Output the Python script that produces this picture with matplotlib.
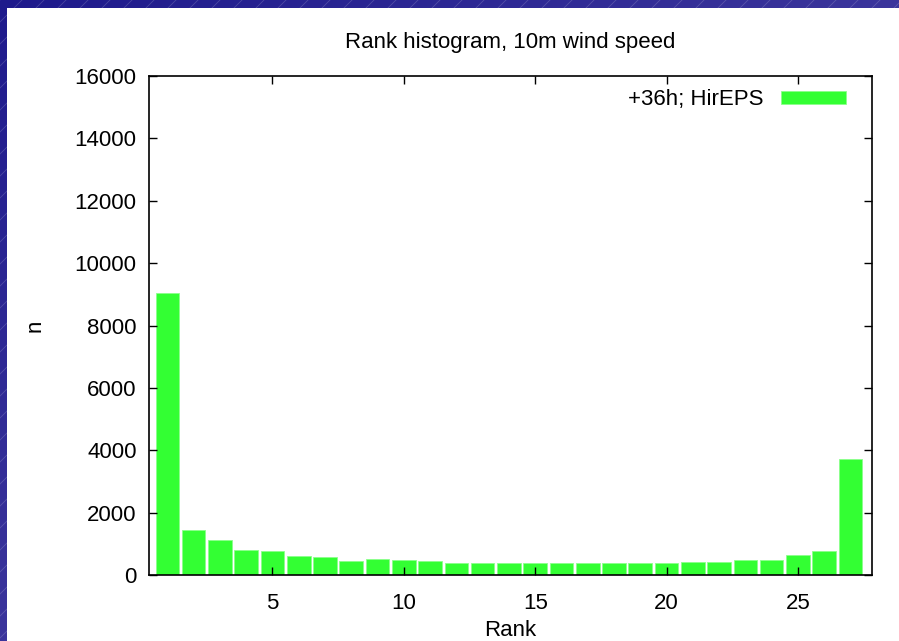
import numpy as np
import matplotlib
matplotlib.use("Agg")
import matplotlib.pyplot as plt
from matplotlib.patches import Rectangle

# rank histogram counts, 27 ranks
ranks = list(range(1, 28))
counts = [9050, 1450, 1130, 800, 770, 600, 570, 460, 520, 490,
          460, 400, 400, 370, 390, 400, 380, 400, 380, 400,
          420, 420, 490, 480, 630, 770, 3720]
xticks = [5, 10, 15, 20, 25]
yticks = [0, 2000, 4000, 6000, 8000, 10000, 12000, 14000, 16000]

plt.rcParams['font.family'] = ['Liberation Sans', 'DejaVu Sans']
FS = 16

W, H = 899, 641
fig = plt.figure(figsize=(W / 100, H / 100), dpi=100)

# blue slide background with faint diagonal lines
bg = fig.add_axes([0, 0, 1, 1])
gx, gy = np.meshgrid(np.linspace(0, 1, 200), np.linspace(0, 1, 200))
t = (gx + gy) / 2
c0 = np.array([30, 26, 140]) / 255
c1 = np.array([88, 80, 172]) / 255
img = c0[None, None, :] * (1 - t[..., None]) + c1[None, None, :] * t[..., None]
bg.imshow(img, extent=[0, W, H, 0], aspect='auto')
for k in np.arange(-H, W + H, 22):
    bg.plot([k, k + H], [H, 0], color='white', alpha=0.18, lw=0.6)
bg.set_xlim(0, W)
bg.set_ylim(H, 0)
bg.axis('off')

# white panel
fig.patches.append(Rectangle((7 / W, 0), 1 - 7 / W, 1 - 8 / H,
                             transform=fig.transFigure, facecolor='white',
                             edgecolor='none', zorder=1))

ax = fig.add_axes([149 / W, 1 - 575 / H, (872 - 149) / W, (575 - 76) / H])
ax.set_zorder(2)
ax.bar(ranks, counts, width=0.9, color='#33ff33', edgecolor='#8cff8c',
       linewidth=0.6, label='+36h; HirEPS')
ax.set_xlim(0.3, 27.82)
ax.set_ylim(0, 16000)
ax.set_xticks(xticks)
ax.set_yticks(yticks)
ax.tick_params(direction='in', top=True, right=True, length=6, width=1,
               labelsize=FS)
ax.tick_params(axis='x', pad=13)
ax.tick_params(axis='y', pad=9)
for s in ax.spines.values():
    s.set_linewidth(1.2)
ax.text(0.5, 1.068, 'Rank histogram, 10m wind speed', transform=ax.transAxes,
        ha='center', va='center', fontsize=FS)
ax.set_xlabel('Rank', fontsize=FS, va='center')
ax.xaxis.set_label_coords(0.5, -0.112)
ax.set_ylabel('n', fontsize=FS, va='center')
ax.yaxis.set_label_coords(-0.158, 0.5)
ax.legend(loc='upper right', frameon=False, markerfirst=False,
          handlelength=2.9, handleheight=0.55, handletextpad=0.8,
          fontsize=FS, borderaxespad=0.4, borderpad=0.2,
          bbox_to_anchor=(0.982, 1.0))

fig.savefig('out.png', dpi=100)
